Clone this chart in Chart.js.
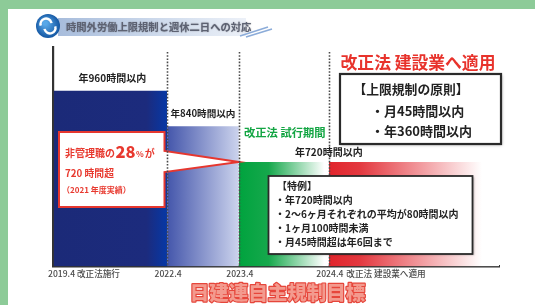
<!DOCTYPE html>
<html><head><meta charset="utf-8">
<script src="https://cdn.jsdelivr.net/npm/chart.js@4/dist/chart.umd.min.js"></script>
<style>html,body{margin:0;padding:0;background:#fff;overflow:hidden}#wrap{width:535px;height:305px}</style>
</head><body><div id="wrap"><canvas id="c" width="535" height="305"></canvas></div>
<script>
// ---- data ----
const periods = ['2019.4-2022.4', '2022.4-2023.4', '2023.4-2024.4', '2024.4-'];
const limitHours = [960, 840, 720, 720];
// schematic timeline positions (0-100) of each period
const periodStart = [0, 25.5, 41.6, 61.8];
const periodEnd = [25.5, 41.6, 61.8, 100];
const tickValues = [0, 25.5, 41.6, 61.8];
const tickDates = ['2019.4', '2022.4', '2023.4', '2024.4'];
const tickNotes = ['改正法施行', '', '', '改正法 建設業へ適用'];
const barLabels = ['年960時間以内', '年840時間以内', '', '年720時間以内'];
const principleLines = ['【上限規制の原則】', '・月45時間以内', '・年360時間以内'];
const exceptionLines = ['【特例】', '・年720時間以内', '・2～6ヶ月それぞれの平均が80時間以内', '・1ヶ月100時間未満', '・月45時間超は年6回まで'];
const calloutPct = '28';

const JP = '"Noto Sans CJK JP","Noto Sans CJK SC",sans-serif';
const F = (s, w) => (w || 'bold') + ' ' + s + 'px ' + JP;

const gradStops = [
  [[0, '#1b2a78'], [0.82, '#1c2b7d'], [1, '#0638a6']],
  [[0, '#4456ab'], [1, '#ccd3ed']],
  [[0, '#00a33e'], [0.33, '#16a84c'], [0.95, '#ffffff'], [1, '#ffffff']],
  [[0, '#e1252c'], [0.18, '#e3383f'], [0.55, '#f29da1'], [0.9, '#ffffff'], [1, '#ffffff']]
];

function fillFor(i) {
  return function (c) {
    const chart = c.chart;
    const area = chart.chartArea;
    if (!area || !chart.scales.x) return gradStops[i][0][1];
    const x0 = chart.scales.x.getPixelForValue(periodStart[i]);
    const x1 = chart.scales.x.getPixelForValue(periodEnd[i]);
    const g = chart.ctx.createLinearGradient(x0, 0, x1, 0);
    gradStops[i].forEach(s => g.addColorStop(s[0], s[1]));
    return g;
  };
}

const datasets = periods.map((p, i) => ({
  label: p,
  data: [{ x: periodStart[i], y: limitHours[i] }, { x: periodEnd[i], y: limitHours[i] }],
  fill: 'start',
  backgroundColor: fillFor(i),
  borderWidth: 0,
  pointRadius: 0,
  tension: 0
}));

function txt(ctx, s, x, y, font, color, align, base) {
  ctx.font = font; ctx.fillStyle = color;
  ctx.textAlign = align || 'left'; ctx.textBaseline = base || 'middle';
  ctx.fillText(s, x, y);
}

const bgPlugin = {
  id: 'bg',
  beforeDraw(chart) {
    const ctx = chart.ctx;
    ctx.save();
    ctx.fillStyle = '#8dcb98'; ctx.fillRect(0, 0, 535, 305);
    ctx.fillStyle = '#ffffff'; ctx.fillRect(8, 9, 527, 296);
    // header bar
    const hg = ctx.createLinearGradient(60, 0, 248, 0);
    hg.addColorStop(0, '#a8bddc'); hg.addColorStop(0.6, '#d3deee'); hg.addColorStop(1, '#edf1f8');
    ctx.fillStyle = hg; ctx.fillRect(58, 18, 188, 18);
    ctx.shadowColor = 'rgba(80,80,90,0.6)'; ctx.shadowBlur = 1.5;
    txt(ctx, '時間外労働上限規制と週休二日への対応', 66, 27, F(10.3), '#5d6272');
    ctx.shadowBlur = 0;
    ctx.strokeStyle = '#8cacd9'; ctx.lineWidth = 1.5;
    ctx.beginPath(); ctx.moveTo(240, 36); ctx.lineTo(268, 27); ctx.stroke();
    ctx.beginPath(); ctx.moveTo(246, 37); ctx.lineTo(272, 29); ctx.stroke();
    // logo
    const rg = ctx.createRadialGradient(45, 23, 2, 48, 26, 13);
    rg.addColorStop(0, '#58a8e8'); rg.addColorStop(1, '#0f519e');
    ctx.fillStyle = rg; ctx.beginPath(); ctx.arc(48, 26, 12, 0, Math.PI * 2); ctx.fill();
    ctx.strokeStyle = '#ffffff'; ctx.lineWidth = 2.4;
    ctx.beginPath(); ctx.arc(46, 24, 5.5, Math.PI * 0.9, Math.PI * 1.95); ctx.stroke();
    ctx.beginPath(); ctx.arc(50, 28, 5.5, Math.PI * -0.1, Math.PI * 0.95); ctx.stroke();
    ctx.restore();
  },
  afterDatasetsDraw(chart) {
    const ctx = chart.ctx, xs = chart.scales.x, ys = chart.scales.y, area = chart.chartArea;
    ctx.save();
    // callout with arrow
    const tipX = xs.getPixelForValue(periodStart[2]), tipY = ys.getPixelForValue(limitHours[2]);
    ctx.beginPath();
    ctx.moveTo(59, 132); ctx.lineTo(164.5, 132); ctx.lineTo(164.5, 151);
    ctx.lineTo(tipX, tipY); ctx.lineTo(164.5, 172); ctx.lineTo(164.5, 207); ctx.lineTo(59, 207); ctx.closePath();
    ctx.fillStyle = '#ffffff'; ctx.fill();
    ctx.strokeStyle = '#e6372f'; ctx.lineWidth = 2; ctx.lineJoin = 'miter'; ctx.stroke();
    // dotted milestone lines
    ctx.strokeStyle = '#4a4a4a'; ctx.lineWidth = 1.6; ctx.setLineDash([1.6, 1.6]);
    tickValues.slice(1).forEach(v => {
      const x = Math.round(xs.getPixelForValue(v)) + 0.5;
      ctx.beginPath(); ctx.moveTo(x, 52); ctx.lineTo(x, area.bottom); ctx.stroke();
    });
    ctx.setLineDash([]);
    ctx.restore();
  },
  afterDraw(chart) {
    const ctx = chart.ctx, xs = chart.scales.x, ys = chart.scales.y, area = chart.chartArea;
    ctx.save();
    // bar labels
    const mid = i => (xs.getPixelForValue(periodStart[i]) + xs.getPixelForValue(periodEnd[i])) / 2;
    txt(ctx, barLabels[0], mid(0) + 2, ys.getPixelForValue(limitHours[0]) - 12, F(10), '#222', 'center');
    txt(ctx, barLabels[1], mid(1), ys.getPixelForValue(limitHours[1]) - 13, F(9.6), '#222', 'center');
    txt(ctx, barLabels[3], xs.getPixelForValue(periodStart[3]), ys.getPixelForValue(limitHours[3]) - 9.5, F(10), '#222', 'center');
    txt(ctx, '改正法 試行期間', mid(2) + 1, ys.getPixelForValue(limitHours[2]) - 29, F(11.3), '#13a543', 'center');
    txt(ctx, '改正法 建設業へ適用', 418, 62.5, F(16.8), '#e8332c', 'center');
    // callout text
    ctx.textBaseline = 'alphabetic';
    let x = 65;
    const red = '#e8392f';
    ctx.fillStyle = red; ctx.textAlign = 'left';
    ctx.font = F(10); ctx.fillText('非管理職の', x, 157); x += ctx.measureText('非管理職の').width + 0.5;
    ctx.font = F(16.5, '900'); ctx.fillText(calloutPct, x, 158); x += ctx.measureText(calloutPct).width + 0.5;
    ctx.font = F(8); ctx.fillText('%', x, 157); x += ctx.measureText('%').width + 1;
    ctx.font = F(10); ctx.fillText('が', x, 157);
    ctx.font = F(9.8); ctx.fillText('720 時間超', 65, 177);
    ctx.font = F(8); ctx.fillText('（2021 年度実績）', 62, 193);
    // principle box
    ctx.save();
    ctx.shadowColor = 'rgba(0,0,0,0.35)'; ctx.shadowBlur = 3; ctx.shadowOffsetX = 1; ctx.shadowOffsetY = 1;
    ctx.fillStyle = '#ffffff'; ctx.fillRect(340, 74, 161, 70);
    ctx.restore();
    ctx.strokeStyle = '#2a2a2a'; ctx.lineWidth = 2.2; ctx.strokeRect(340, 74, 161, 70);
    txt(ctx, principleLines[0], 411, 89.5, F(12.8), '#222', 'center');
    txt(ctx, principleLines[1], 371, 111, F(13), '#222', 'left');
    txt(ctx, principleLines[2], 371, 131.5, F(13), '#222', 'left');
    // exception box
    ctx.save();
    ctx.shadowColor = 'rgba(0,0,0,0.3)'; ctx.shadowBlur = 2; ctx.shadowOffsetX = 1; ctx.shadowOffsetY = 1;
    ctx.fillStyle = '#ffffff'; ctx.fillRect(268.5, 176, 204, 78);
    ctx.restore();
    ctx.strokeStyle = '#2a2a2a'; ctx.lineWidth = 1.8; ctx.strokeRect(268.5, 176, 204, 78);
    exceptionLines.forEach((s, i) => {
      txt(ctx, s, i === 0 ? 277 : 275, 186.5 + i * 13.9, F(10), '#222', 'left');
    });
    // tick labels
    tickDates.forEach((d, i) => {
      const tx = xs.getPixelForValue(tickValues[i]);
      ctx.font = F(8.6, '500'); ctx.fillStyle = '#4a4a4a'; ctx.textBaseline = 'middle';
      if (i === 0) {
        ctx.textAlign = 'left'; ctx.fillText(d + ' ' + tickNotes[i], 48, 274);
      } else {
        ctx.textAlign = 'center'; ctx.fillText(d, tx + 1, 274);
        if (tickNotes[i]) {
          const w = ctx.measureText(d).width;
          ctx.textAlign = 'left'; ctx.fillText(tickNotes[i], tx + 1 + w / 2 + 3, 274);
        }
      }
    });
    // bottom title
    ctx.font = F(19.5, '900'); ctx.textAlign = 'center'; ctx.textBaseline = 'middle';
    ctx.lineJoin = 'round';
    ctx.strokeStyle = '#e6463b'; ctx.lineWidth = 2.4; ctx.strokeText('日建連自主規制目標', 277.5, 292.5);
    ctx.fillStyle = '#f39a8e'; ctx.fillText('日建連自主規制目標', 277.5, 292.5);
    ctx.restore();
  }
};

new Chart(document.getElementById('c'), {
  type: 'line',
  data: { datasets },
  plugins: [bgPlugin],
  options: {
    responsive: false,
    animation: false,
    devicePixelRatio: 1,
    layout: { padding: { left: 53.5, right: 36, top: 46.7, bottom: 38.5 } },
    plugins: { legend: { display: false }, tooltip: { enabled: false }, title: { display: false } },
    scales: {
      x: {
        type: 'linear', min: 0, max: 100,
        grid: { display: false, drawTicks: false },
        ticks: { display: false },
        border: { display: true, color: '#333333', width: 2.6 }
      },
      y: {
        type: 'linear', min: 368, max: 1108,
        grid: { display: false, drawTicks: false },
        ticks: { display: false },
        border: { display: true, color: '#333333', width: 2.2 }
      }
    }
  }
});
</script>
</body></html>
